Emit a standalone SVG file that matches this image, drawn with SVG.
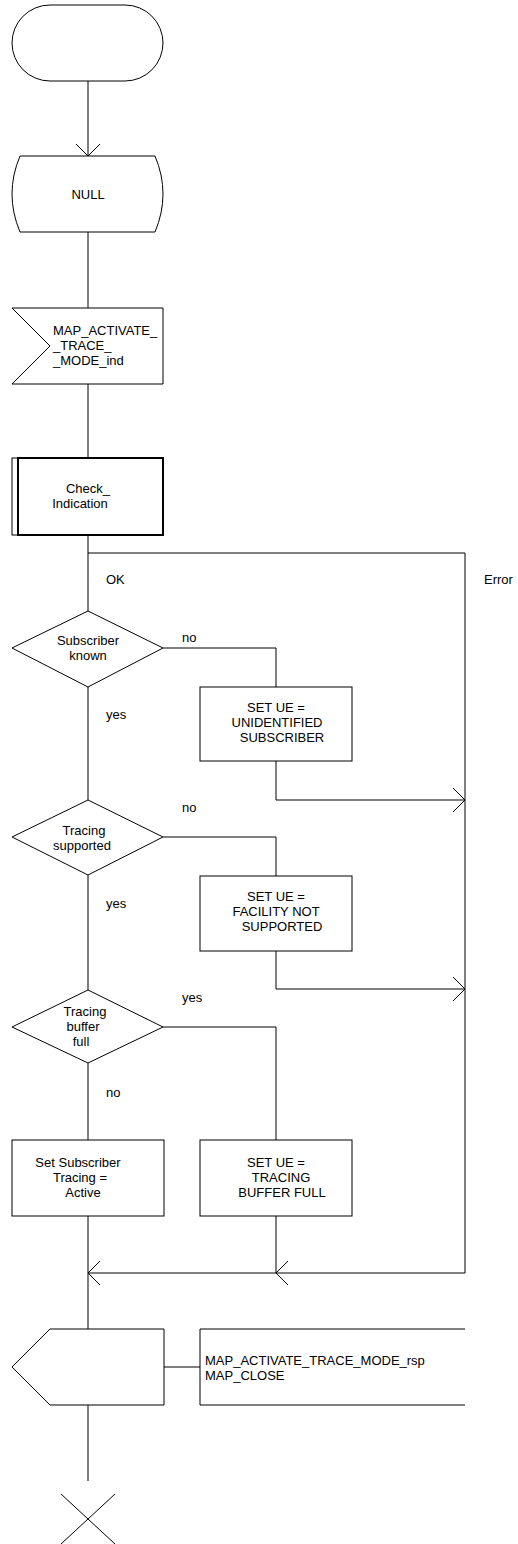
<svg xmlns="http://www.w3.org/2000/svg" width="518" height="1544" viewBox="0 0 518 1544">
<style>
.s{fill:#fff;stroke:#000;stroke-width:1}
.c{fill:none;stroke:#000;stroke-width:1}
text{font-family:"Liberation Sans",Arial,sans-serif;font-size:13px;fill:#000}
.m{text-anchor:middle}
</style>
<defs>
<marker id="v" markerUnits="userSpaceOnUse" markerWidth="14" markerHeight="26" refX="12" refY="12" orient="auto" viewBox="-1 -1 14 26">
<path d="M0,0 L12,12 L0,24" fill="none" stroke="#000" stroke-width="1"/>
</marker>
</defs>
<rect width="518" height="1544" fill="#fff"/>
<g id="connectors">
<path class="c" d="M88,81 V156" marker-end="url(#v)"/>
<path class="c" d="M88,232 V308"/>
<path class="c" d="M88,384 V458"/>
<path class="c" d="M88,535 V611"/>
<path class="c" d="M88,553 H465 V1273 H276" marker-end="url(#v)"/>
<path class="c" d="M163,648 H276 V687"/>
<path class="c" d="M276,761 V800 H465" marker-end="url(#v)"/>
<path class="c" d="M88,687 V800"/>
<path class="c" d="M163,837 H276 V876"/>
<path class="c" d="M276,951 V989 H465" marker-end="url(#v)"/>
<path class="c" d="M88,875 V990"/>
<path class="c" d="M163,1027 H276 V1140"/>
<path class="c" d="M88,1063 V1140"/>
<path class="c" d="M276,1216 V1273 H88" marker-end="url(#v)"/>
<path class="c" d="M88,1216 V1273"/>
<path class="c" d="M88,1273 V1329" stroke-width="2"/>
<path class="c" d="M164,1367 H200"/>
<path class="c" d="M88,1405 V1481"/>
<text x="106" y="584">OK</text>
<text x="484" y="584">Error</text>
<text x="182" y="642">no</text>
<text x="106" y="719">yes</text>
<text x="182" y="812">no</text>
<text x="106" y="908">yes</text>
<text x="182" y="1002">yes</text>
<text x="106" y="1097">no</text>
</g>
<g id="start">
<rect class="s" x="12" y="5" width="151" height="76" rx="38" ry="38"/>
</g>
<g id="null">
<path class="s" d="M20,156 H155 Q171,194 155,232 H20 Q4,194 20,156 Z"/>
<text class="m" x="88" y="199">NULL</text>
</g>
<g id="input">
<path class="s" d="M12,308 H163 V384 H12 L50,346 Z"/>
<text x="53" y="335">MAP_ACTIVATE_</text>
<text x="53" y="350">_TRACE_</text>
<text x="53" y="365">_MODE_ind</text>
</g>
<g id="check">
<rect class="s" x="12" y="458" width="151" height="77"/>
<rect x="18" y="458" width="145" height="77" fill="none" stroke="#000" stroke-width="2"/>
<text class="m" x="88" y="493">Check_</text>
<text class="m" x="80" y="508">Indication</text>
</g>
<g id="dec1">
<path class="s" d="M88,611 L163,648 L88,687 L12,648 Z"/>
<text class="m" x="88" y="645">Subscriber</text>
<text class="m" x="88" y="660">known</text>
</g>
<g id="ue1">
<rect class="s" x="200" y="687" width="152" height="74"/>
<text class="m" x="276" y="712">SET UE =</text>
<text class="m" x="277" y="727">UNIDENTIFIED</text>
<text class="m" x="282" y="742">SUBSCRIBER</text>
</g>
<g id="dec2">
<path class="s" d="M88,800 L163,837 L88,875 L12,837 Z"/>
<text class="m" x="84" y="835">Tracing</text>
<text class="m" x="82" y="850">supported</text>
</g>
<g id="ue2">
<rect class="s" x="200" y="876" width="152" height="75"/>
<text class="m" x="276" y="901">SET UE =</text>
<text class="m" x="276" y="916">FACILITY NOT</text>
<text class="m" x="282" y="931">SUPPORTED</text>
</g>
<g id="dec3">
<path class="s" d="M88,990 L163,1027 L88,1063 L12,1027 Z"/>
<text class="m" x="85" y="1016">Tracing</text>
<text class="m" x="83" y="1031">buffer</text>
<text class="m" x="81" y="1046">full</text>
</g>
<g id="setactive">
<rect class="s" x="12" y="1140" width="152" height="76"/>
<text class="m" x="78" y="1167">Set Subscriber</text>
<text class="m" x="80" y="1182">Tracing =</text>
<text class="m" x="83" y="1197">Active</text>
</g>
<g id="ue3">
<rect class="s" x="200" y="1140" width="152" height="76"/>
<text class="m" x="276" y="1167">SET UE =</text>
<text class="m" x="281" y="1182">TRACING</text>
<text class="m" x="282" y="1197">BUFFER FULL</text>
</g>
<g id="output">
<path class="s" d="M50,1329 H164 V1405 H50 L12,1367 Z"/>
</g>
<g id="outtext">
<path class="c" d="M465,1329 H200 V1405 H465"/>
<text x="205" y="1365">MAP_ACTIVATE_TRACE_MODE_rsp</text>
<text x="205" y="1380">MAP_CLOSE</text>
</g>
<g id="stop">
<path class="c" d="M61,1494 L115,1544 M115,1494 L61,1544"/>
</g>
</svg>
